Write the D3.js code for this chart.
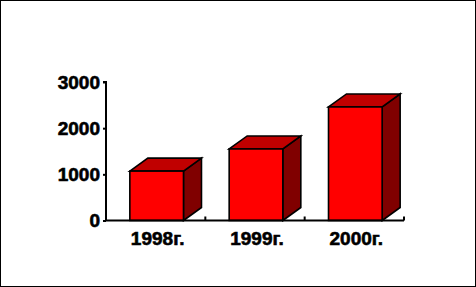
<!DOCTYPE html>
<html>
<head>
<meta charset="utf-8">
<script src="https://cdn.jsdelivr.net/npm/d3@7"></script>
<style>
  body { margin: 0; background: #fff; }
  svg { display: block; }
  text { font-family: "Liberation Sans", Arial, sans-serif; font-weight: bold; }
</style>
</head>
<body>
<div id="main"></div>
<script>
const years = ['1998г.', '1999г.', '2000г.'];
const values = [1070, 1550, 2460];
const yTicks = [0, 1000, 2000, 3000];

const width = 476;
const height = 287;

const svg = d3.select('#main').append('svg')
    .attr('width', width)
    .attr('height', height);

// frame
svg.append('rect')
    .attr('x', 0.5).attr('y', 0.5)
    .attr('width', width - 1).attr('height', height - 1)
    .attr('fill', '#fff').attr('stroke', '#000');

const x = d3.scaleBand()
    .domain(years)
    .range([106, 404]);
const y = d3.scaleLinear()
    .domain([0, 3000])
    .range([220.5, 82]);

const step = x.step();
const depthX = 18, depthY = 13;

// bars
const bars = svg.append('g')
    .attr('stroke', '#000')
    .attr('stroke-width', 1.6)
    .attr('stroke-linejoin', 'miter');

years.forEach((yr, i) => {
    const x0 = x(yr) + step * 0.24;
    const x1 = x0 + step * 0.54;
    const yt = y(values[i]);
    const yb = y(0);
    // side
    bars.append('path')
        .attr('fill', '#800000')
        .attr('d', `M${x1},${yb} L${x1 + depthX},${yb - depthY} L${x1 + depthX},${yt - depthY} L${x1},${yt} Z`);
    // top
    bars.append('path')
        .attr('fill', '#c00000')
        .attr('d', `M${x0},${yt} L${x0 + depthX},${yt - depthY} L${x1 + depthX},${yt - depthY} L${x1},${yt} Z`);
    // front
    bars.append('rect')
        .attr('fill', '#ff0000')
        .attr('x', x0).attr('y', yt)
        .attr('width', x1 - x0).attr('height', yb - yt);
});

// y axis
const yAxis = svg.append('g')
    .attr('transform', 'translate(106,0)')
    .call(d3.axisLeft(y).tickValues(yTicks).tickSize(3).tickPadding(3).tickFormat(d3.format('d')));
yAxis.select('.domain').attr('stroke-width', 2).attr('d', `M-3,${y(3000)}H0V${y(0)}`);
yAxis.selectAll('.tick line').attr('stroke-width', 2);
yAxis.selectAll('text')
    .attr('font-size', 19)
    .attr('fill', '#000')
    .attr('stroke', '#000')
    .attr('stroke-width', 0.6)
    .attr('font-family', '"Liberation Sans", Arial, sans-serif')
    .attr('font-weight', 'bold');

// x axis line
svg.append('line')
    .attr('x1', 106).attr('x2', 404)
    .attr('y1', y(0)).attr('y2', y(0))
    .attr('stroke', '#000').attr('stroke-width', 2);

// category boundary ticks (pointing up)
svg.selectAll('.xtick')
    .data(years)
    .enter()
    .append('line')
    .attr('x1', d => x(d) + step)
    .attr('x2', d => x(d) + step)
    .attr('y1', y(0))
    .attr('y2', y(0) - 4)
    .attr('stroke', '#000')
    .attr('stroke-width', 2);

// category labels
svg.selectAll('.xlabel')
    .data(years)
    .enter()
    .append('text')
    .attr('x', d => x(d) + step * 0.52)
    .attr('y', 245)
    .attr('text-anchor', 'middle')
    .attr('font-size', 19)
    .attr('fill', '#000')
    .attr('stroke', '#000')
    .attr('stroke-width', 0.6)
    .text(d => d);
</script>
</body>
</html>
